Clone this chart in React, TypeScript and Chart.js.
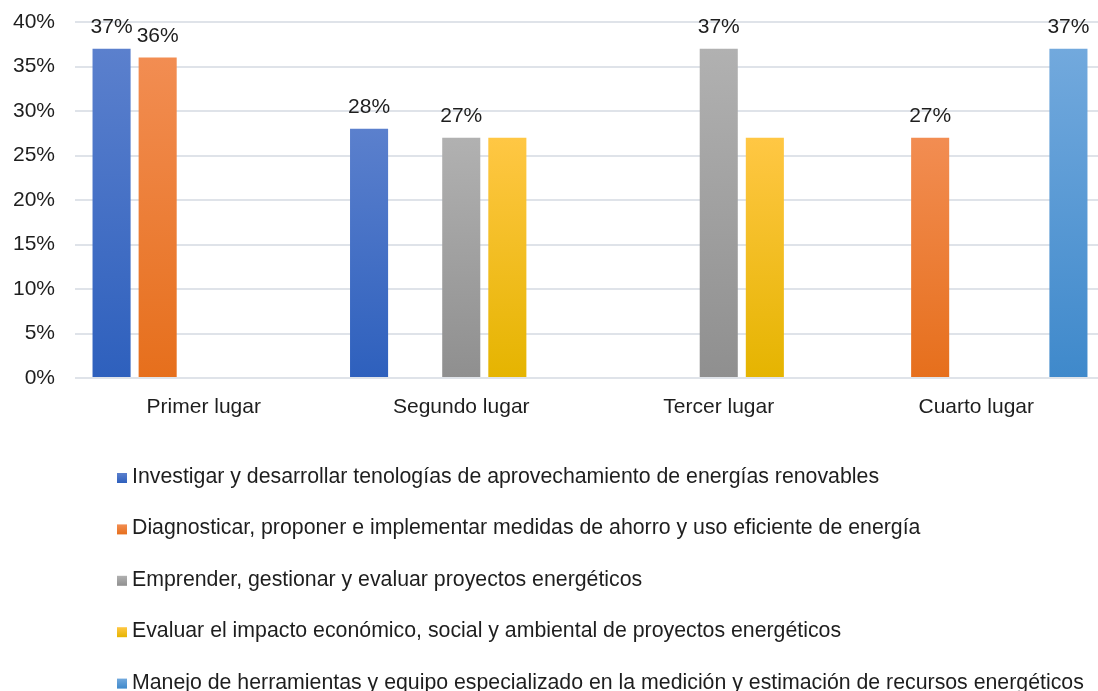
import React, { useEffect, useRef } from "react";
import { Chart, registerables } from "chart.js";

Chart.register(...registerables);

const categories = ["Primer lugar", "Segundo lugar", "Tercer lugar", "Cuarto lugar"];
const seriesNames = [
  "Investigar y desarrollar tenologías de aprovechamiento de energías renovables",
  "Diagnosticar, proponer e implementar medidas de ahorro y uso eficiente de energía",
  "Emprender, gestionar y evaluar proyectos energéticos",
  "Evaluar el impacto económico, social y ambiental de proyectos energéticos",
  "Manejo de herramientas y equipo especializado en la medición y estimación de recursos energéticos",
];
const investigar = [37, 28, null, null];
const diagnosticar = [36, null, null, 27];
const emprender = [null, 27, 37, null];
const evaluar = [null, 27, 27, null];
const manejo = [null, null, null, 37];
const seriesValues = [investigar, diagnosticar, emprender, evaluar, manejo];
// which values carry a visible data label
const labelShown = [
  [true, true, false, false],
  [true, false, false, true],
  [false, true, true, false],
  [false, false, false, false],
  [false, false, false, true],
];
const yTicks = [0, 5, 10, 15, 20, 25, 30, 35, 40];

const topColors = ["#5b80cd", "#f28d52", "#b1b1b1", "#ffc744", "#72a9dd"];
const bottomColors = ["#2e60bd", "#e66f1c", "#8f8f8f", "#e5b400", "#3f89cb"];

const FONT = "'Liberation Sans', Arial, sans-serif";

const legendPlugin = {
  id: "customLegend",
  afterDraw(chart: any) {
    const ctx = chart.ctx;
    ctx.save();
    ctx.font = `21.3px ${FONT}`;
    ctx.textBaseline = "alphabetic";
    ctx.textAlign = "left";
    chart.data.datasets.forEach((ds: any, i: number) => {
      const base = 483 + i * 51.4;
      const my = base - 10;
      const g = ctx.createLinearGradient(0, my, 0, my + 10);
      g.addColorStop(0, topColors[i]);
      g.addColorStop(1, bottomColors[i]);
      ctx.fillStyle = g;
      ctx.fillRect(117, my, 10, 10);
      ctx.fillStyle = "#1e1e1e";
      ctx.fillText(ds.label, 132, base);
    });
    ctx.restore();
  },
};

const labelPlugin = {
  id: "barLabels",
  afterDatasetsDraw(chart: any) {
    const ctx = chart.ctx;
    ctx.save();
    ctx.font = `21px ${FONT}`;
    ctx.textAlign = "center";
    ctx.textBaseline = "alphabetic";
    ctx.fillStyle = "#1e1e1e";
    chart.data.datasets.forEach((ds: any, i: number) => {
      const meta = chart.getDatasetMeta(i);
      meta.data.forEach((bar: any, j: number) => {
        const v = ds.data[j];
        if (v == null || !labelShown[i][j]) return;
        ctx.fillText(v + "%", bar.x, bar.y - 16);
      });
    });
    ctx.restore();
  },
};

export default function App() {
  const ref = useRef<HTMLCanvasElement>(null);
  useEffect(() => {
    const canvas = ref.current!;
    const chart = new Chart(canvas, {
      type: "bar",
      data: {
        labels: categories,
        datasets: seriesValues.map((vals, i) => ({
          label: seriesNames[i],
          data: vals,
          backgroundColor: (c: any) => {
            const ch = c.chart;
            if (!ch.chartArea || c.raw == null) return topColors[i];
            const y = ch.scales.y;
            const t = y.getPixelForValue(c.raw);
            const b = y.getPixelForValue(0);
            const g = ch.ctx.createLinearGradient(0, t, 0, b);
            g.addColorStop(0, topColors[i]);
            g.addColorStop(1, bottomColors[i]);
            return g;
          },
          borderWidth: 0,
          categoryPercentage: 0.895,
          barPercentage: 0.826,
        })),
      },
      options: {
        responsive: false,
        animation: false,
        layout: { padding: { top: 22, right: 5, bottom: 253, left: 0 } },
        plugins: { legend: { display: false }, tooltip: { enabled: false } },
        scales: {
          x: {
            grid: { display: false },
            border: { display: false },
            ticks: { color: "#1e1e1e", font: { family: FONT, size: 21 }, padding: 9 },
            afterFit: (s: any) => { s.height = 60; },
          },
          y: {
            min: 0,
            max: 40,
            afterBuildTicks: (s: any) => { s.ticks = yTicks.map((v) => ({ value: v })); },
            grid: { color: "#dfe3e9", lineWidth: 2, drawTicks: false },
            border: { display: false },
            ticks: {
              color: "#1e1e1e",
              font: { family: FONT, size: 21 },
              padding: 20,
              callback: (v: any) => v + "%",
            },
            afterFit: (s: any) => {
              s.width = 75;
              s.paddingTop = 0;
              s.paddingBottom = 0;
            },
          },
        },
      },
      plugins: [labelPlugin, legendPlugin],
    });
    return () => chart.destroy();
  }, []);
  return (
    <div style={{ position: "fixed", left: 0, top: 0, width: 1098, height: 691, overflow: "hidden", background: "#fff" }}>
      <canvas ref={ref} width={1110} height={691} style={{ width: 1110, height: 691, display: "block" }} />
    </div>
  );
}
